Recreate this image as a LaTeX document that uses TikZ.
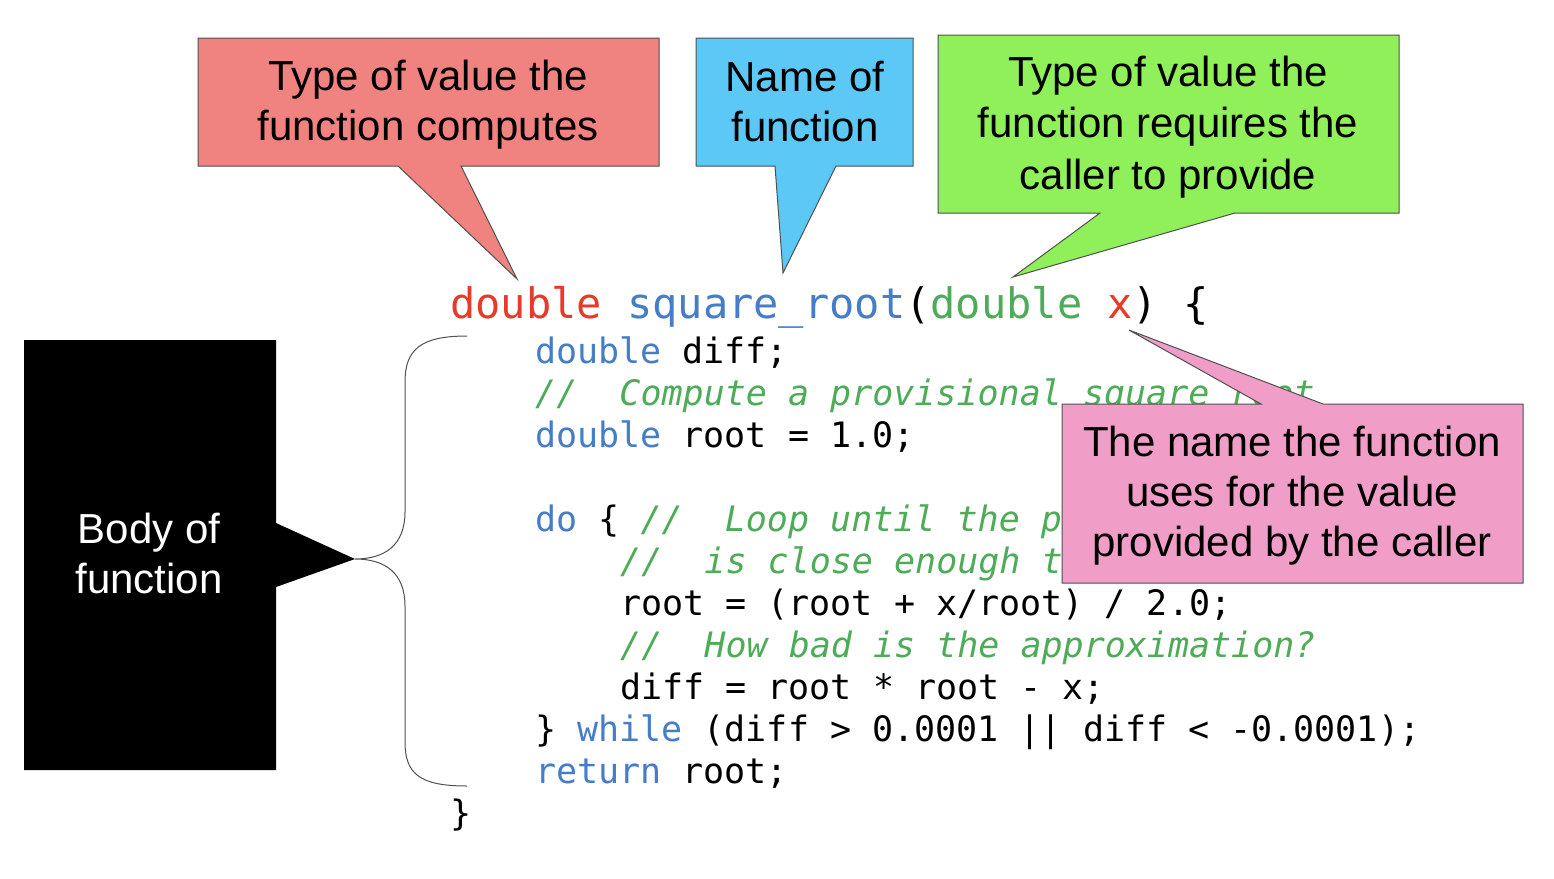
\documentclass[tikz,border=0pt]{standalone}
\usepackage{fontspec}
\setmainfont{Liberation Sans}
\setmonofont{DejaVu Sans Mono}
\definecolor{cred}{RGB}{232,58,42}
\definecolor{cblue}{RGB}{70,125,200}
\definecolor{cgreen}{RGB}{78,172,88}
\definecolor{fred}{RGB}{240,130,128}
\definecolor{fblue}{RGB}{92,200,246}
\definecolor{fgreen}{RGB}{144,240,90}
\definecolor{fpink}{RGB}{240,158,200}
\definecolor{bordergray}{RGB}{80,80,80}
\newcommand{\kwb}[1]{\textcolor{cblue}{#1}}
\newcommand{\cmt}[1]{\textcolor{cgreen}{\itshape #1}}
\begin{document}
\begin{tikzpicture}[x=1pt,y=-1pt,
  callout/.style={draw=bordergray, line width=1pt, line join=miter},
  ctext/.style={font=\fontsize{42}{50}\selectfont, align=center, inner sep=0pt},
  code/.style={font=\ttfamily\fontsize{35}{42}\selectfont, anchor=base west, inner sep=0pt},
  headcode/.style={font=\ttfamily\fontsize{42}{50}\selectfont, anchor=base west, inner sep=0pt},
  brace/.style={draw=bordergray, line width=1pt}]
\useasboundingbox (0,0) rectangle (1554,878);
\fill[white] (0,0) rectangle (1554,878);

% ---- code ----
\node[headcode] (head) at (450,318) {\textcolor{cred}{double} \textcolor{cblue}{square\_root}(\textcolor{cgreen}{double} \textcolor{cred}{x}) \{};
\node[code] (c1) at (535,363) {\kwb{double} diff;};
\node[code] (c2) at (535,405) {\cmt{//\ \ Compute a provisional square root}};
\node[code] (c3) at (535,447) {\kwb{double} root = 1.0;};
\node[code] (c4) at (535,531) {\kwb{do} \{ \cmt{//\ \ Loop until the p}};
\node[code] (c5) at (620,573) {\cmt{//\ \ is close enough t}};
\node[code] (c6) at (620,615) {root = (root + x/root) / 2.0;};
\node[code] (c7) at (620,657) {\cmt{//\ \ How bad is the approximation?}};
\node[code] (c8) at (620,699) {diff = root * root - x;};
\node[code] (c9) at (535,741) {\} \kwb{while} (diff > 0.0001 || diff < -0.0001);};
\node[code] (c10) at (535,783) {\kwb{return} root;};
\node[code] (c11) at (450,825) {\}};

% ---- brace ----
\coordinate (bTop) at (467,336);
\coordinate (bMid) at (355,559);
\coordinate (bBot) at (467,786);
\draw[brace] (bTop) .. controls (420,336) and (405,350) .. (405,382)
  -- (405,512) .. controls (405,545) and (385,559) .. (bMid)
  .. controls (385,559) and (405,573) .. (405,606)
  -- (405,742) .. controls (405,774) and (420,786) .. (bBot);

% ---- black callout ----
\coordinate (kTip) at (bMid);
\fill[black] (24,340) -- (276,340) -- (276,523) -- (kTip) -- (276,587) -- (276,770) -- (24,770) -- cycle;
\node[ctext, text=white] (body) at (149,553) {Body of\\function};

% ---- red callout ----
\coordinate (rTip) at (517,279);
\filldraw[callout, fill=fred] (198,38) -- (659,38) -- (659,166) -- (461,166) -- (rTip) -- (398,166) -- (198,166) -- cycle;
\node[ctext] (rtext) at (428,105) {Type of value the\\function computes};

% ---- blue callout ----
\coordinate (uTip) at (783,273);
\filldraw[callout, fill=fblue] (696,38) -- (913,38) -- (913,166) -- (836,166) -- (uTip) -- (775,166) -- (696,166) -- cycle;
\node[ctext] (utext) at (805,102) {Name of\\function};

% ---- green callout ----
\coordinate (gTip) at (1013,277);
\filldraw[callout, fill=fgreen] (938,35) -- (1399,35) -- (1399,213) -- (1235,213) -- (gTip) -- (1100,213) -- (938,213) -- cycle;
\node[ctext, font=\fontsize{42}{51.5}\selectfont] (gtext) at (1168,127) {Type of value the\\function requires the\\caller to provide};

% ---- pink callout ----
\coordinate (pTip) at (1129,330);
\filldraw[callout, fill=fpink] (1062,404) -- (1261,404) -- (pTip) -- (1323,404) -- (1523,404) -- (1523,583) -- (1062,583) -- cycle;
\node[ctext] (ptext) at (1292,496) {The name the function\\uses for the value\\provided by the caller};
\end{tikzpicture}
\end{document}
